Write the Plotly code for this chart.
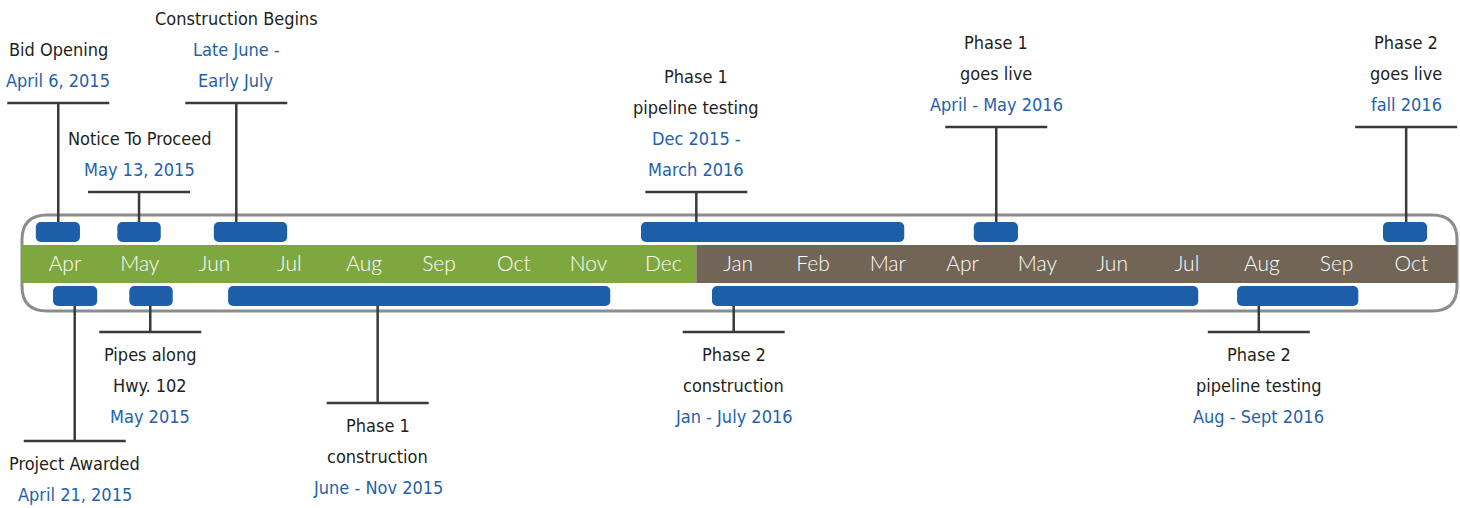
import plotly.graph_objects as go

# ---------------- data ----------------
months = ["Apr", "May", "Jun", "Jul", "Aug", "Sep", "Oct", "Nov", "Dec",
          "Jan", "Feb", "Mar", "Apr", "May", "Jun", "Jul", "Aug", "Sep", "Oct"]
months_2015 = 9  # Apr..Dec 2015 (green), rest 2016 (brown)

top_names = [["Bid Opening"], ["Notice To Proceed"], ["Construction Begins"],
             ["Phase 1", "pipeline testing"], ["Phase 1", "goes live"], ["Phase 2", "goes live"]]
top_dates = [["April 6, 2015"], ["May 13, 2015"], ["Late June -", "Early July"],
             ["Dec 2015 -", "March 2016"], ["April - May 2016"], ["fall 2016"]]
top_start = [-0.39, 0.70, 1.99, 7.70, 12.15, 17.62]   # in months from mid-April 2015
top_end = [0.20, 1.28, 2.97, 11.22, 12.74, 18.21]
top_marker = [-0.09, 0.99, 2.29, 8.44, 12.45, 17.93]

bottom_names = [["Project Awarded"], ["Pipes along", "Hwy. 102"], ["Phase 1", "construction"],
                ["Phase 2", "construction"], ["Phase 2", "pipeline testing"]]
bottom_dates = [["April 21, 2015"], ["May 2015"], ["June - Nov 2015"],
                ["Jan - July 2016"], ["Aug - Sept 2016"]]
bottom_start = [-0.16, 0.86, 2.18, 8.65, 15.67]
bottom_end = [0.43, 1.44, 7.29, 15.15, 17.29]
bottom_marker = [0.13, 1.14, 4.18, 8.94, 15.96]

# ---------------- layout constants ----------------
W, H = 1460, 508
PX_PER_MONTH = 74.8
X_ORIGIN_PX = 65
x_range = [-X_ORIGIN_PX / PX_PER_MONTH, (W - X_ORIGIN_PX) / PX_PER_MONTH]
band_left, band_right = -0.575, 18.61

top_label_y = [103, 192, 103, 192, 127, 127]
bottom_label_y = [441, 332, 403, 332, 332]
TOP_BAR_Y, BOT_BAR_Y, BAR_H = 232, 296, 20
LINE_GAP = 31
UNDERLINE_HALF = 51 / PX_PER_MONTH

BLUE = "#1c5fa8"
TXT_BLUE = "#1f62aa"
BLACK = "#231f20"
GREEN = "#7ea83f"
BROWN = "#716557"
LINE = "#3a3a3a"
FONT = "DejaVu Sans Condensed, Liberation Sans Narrow, Arial Narrow, sans-serif"
FS = 18

fig = go.Figure()

# border (rounded rectangle) and month band
rx = 25 / PX_PER_MONTH
ry = 25
x0, x1, y0, y1 = band_left, band_right, 215, 311
path = (f"M {x0+rx},{y0} L {x1-rx},{y0} Q {x1},{y0} {x1},{y0+ry} L {x1},{y1-ry} "
        f"Q {x1},{y1} {x1-rx},{y1} L {x0+rx},{y1} Q {x0},{y1} {x0},{y1-ry} "
        f"L {x0},{y0+ry} Q {x0},{y0} {x0+rx},{y0} Z")
fig.add_shape(type="path", path=path, xref="x", yref="y",
              line=dict(color="#8c8c8c", width=3), fillcolor="white", layer="below")
boundary = months_2015 - 0.56
fig.add_shape(type="rect", xref="x", yref="y", x0=band_left, x1=boundary, y0=245, y1=283,
              fillcolor=GREEN, line_width=0, layer="below")
fig.add_shape(type="rect", xref="x", yref="y", x0=boundary, x1=band_right, y0=245, y1=283,
              fillcolor=BROWN, line_width=0, layer="below")

# month labels
fig.add_trace(go.Scatter(x=list(range(len(months))), y=[266] * len(months), mode="text",
                         text=months, textposition="middle center",
                         textfont=dict(color="white", size=21, family="Lato, sans-serif",
                                       weight=300),
                         hoverinfo="skip", showlegend=False))

# bars
fig.add_trace(go.Bar(orientation="h", base=top_start,
                     x=[e - s for s, e in zip(top_start, top_end)],
                     y=[TOP_BAR_Y] * len(top_start), width=BAR_H,
                     marker=dict(color=BLUE, cornerradius=5, line_width=0),
                     hoverinfo="skip", showlegend=False))
fig.add_trace(go.Bar(orientation="h", base=bottom_start,
                     x=[e - s for s, e in zip(bottom_start, bottom_end)],
                     y=[BOT_BAR_Y] * len(bottom_start), width=BAR_H,
                     marker=dict(color=BLUE, cornerradius=5, line_width=0),
                     hoverinfo="skip", showlegend=False))

# connectors and underlines
lx, ly = [], []
for m, uy in zip(top_marker, top_label_y):
    lx += [m, m, None, m - UNDERLINE_HALF, m + UNDERLINE_HALF, None]
    ly += [TOP_BAR_Y - BAR_H / 2, uy, None, uy, uy, None]
for m, uy in zip(bottom_marker, bottom_label_y):
    lx += [m, m, None, m - UNDERLINE_HALF, m + UNDERLINE_HALF, None]
    ly += [BOT_BAR_Y + BAR_H / 2, uy, None, uy, uy, None]
fig.add_trace(go.Scatter(x=lx, y=ly, mode="lines", line=dict(color=LINE, width=2.5),
                         hoverinfo="skip", showlegend=False))

# labels
def add_lines(xc, lines_colors, ys):
    for (txt, col), yy in zip(lines_colors, ys):
        fig.add_annotation(x=xc, y=yy, xref="x", yref="y", text=txt, showarrow=False,
                           xanchor="center", yanchor="middle",
                           font=dict(color=col, size=FS, family=FONT))

for m, uy, names, dates in zip(top_marker, top_label_y, top_names, top_dates):
    lines = [(t, BLACK) for t in names] + [(t, TXT_BLUE) for t in dates]
    n = len(lines)
    ys = [uy - 23 - LINE_GAP * (n - 1 - i) for i in range(n)]
    add_lines(m, lines, ys)

for m, uy, names, dates in zip(bottom_marker, bottom_label_y, bottom_names, bottom_dates):
    lines = [(t, BLACK) for t in names] + [(t, TXT_BLUE) for t in dates]
    ys = [uy + 22 + LINE_GAP * i for i in range(len(lines))]
    add_lines(m, lines, ys)

fig.update_layout(width=W, height=H, margin=dict(l=0, r=0, t=0, b=0),
                  paper_bgcolor="white", plot_bgcolor="white", barmode="overlay",
                  xaxis=dict(range=x_range, visible=False, fixedrange=True),
                  yaxis=dict(range=[H, 0], visible=False, fixedrange=True),
                  showlegend=False)
fig.write_html("out.html", config={"displayModeBar": False, "staticPlot": True},
               post_script="document.body.style.margin='0';document.body.style.overflow='hidden';")
